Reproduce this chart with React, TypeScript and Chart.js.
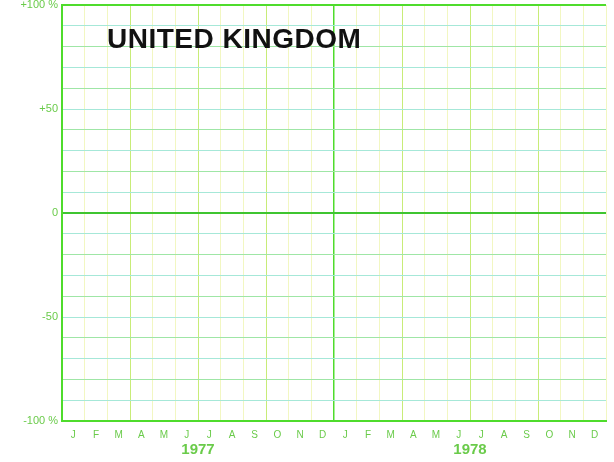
import React, { useEffect, useRef } from "react";
import { Chart, registerables } from "chart.js";

Chart.register(...registerables);

const months: string[] = [
  "J", "F", "M", "A", "M", "J", "J", "A", "S", "O", "N", "D",
  "J", "F", "M", "A", "M", "J", "J", "A", "S", "O", "N", "D",
];
const years: string[] = ["1977", "1978"];
const yLabeled: Record<number, string> = {
  100: "+100 %",
  50: "+50",
  0: "0",
  [-50]: "-50",
  [-100]: "-100 %",
};
const ukValues: (number | null)[] = [];
const title = "UNITED KINGDOM";

const GREEN = "#4fdc2c";
const TEXT_GREEN = "#6acb4a";

const titlePlugin = {
  id: "ukTitle",
  afterDraw(chart: any) {
    const { ctx, chartArea } = chart;
    ctx.save();
    ctx.font = "bold 28px 'Liberation Sans', Arial, sans-serif";
    try {
      (ctx as any).letterSpacing = "0.5px";
    } catch (e) {}
    ctx.fillStyle = "#111111";
    ctx.textBaseline = "alphabetic";
    ctx.textAlign = "left";
    ctx.fillText(title, chartArea.left + 45, chartArea.top + 43);
    ctx.restore();
  },
};

export default function App() {
  const ref = useRef<HTMLCanvasElement | null>(null);
  useEffect(() => {
    document.body.style.margin = "0";
    const chart = new Chart(ref.current as HTMLCanvasElement, {
      type: "line",
      data: {
        labels: months,
        datasets: [
          {
            label: "United Kingdom",
            data: ukValues,
            borderColor: "#222",
            pointRadius: 0,
          },
        ],
      },
      plugins: [titlePlugin],
      options: {
        animation: false,
        responsive: false,
        maintainAspectRatio: false,
        layout: { padding: { top: 0, right: 8, left: 0, bottom: 0 } },
        plugins: {
          legend: { display: false },
          tooltip: { enabled: false },
          title: { display: false },
        },
        scales: {
          x: {
            type: "category",
            position: "bottom",
            offset: true,
            afterFit: (s: any) => {
              s.height = 20;
            },
            grid: {
              offset: true,
              drawTicks: false,
              color: (c: any) => {
                const i = c.index;
                if (i === 0 || i === 24 || i === 12) return GREEN;
                if (i % 3 === 0) return "#c8ec78";
                return "#f2f7c2";
              },
              lineWidth: (c: any) => {
                const i = c.index;
                if (i === 0 || i === 24) return 2;
                if (i === 12) return 1.5;
                return 1;
              },
            },
            border: { display: true, color: GREEN, width: 2 },
            ticks: {
              color: TEXT_GREEN,
              font: { size: 10, family: "'Liberation Sans', Arial, sans-serif" },
              maxRotation: 0,
              autoSkip: false,
              padding: 8,
            },
          },
          x2: {
            type: "category",
            labels: years,
            position: "bottom",
            offset: true,
            afterFit: (s: any) => {
              s.height = 21;
            },
            grid: { display: false, drawTicks: false },
            border: { display: false },
            ticks: {
              color: TEXT_GREEN,
              font: { size: 15, weight: "bold", family: "'Liberation Sans', Arial, sans-serif" },
              maxRotation: 0,
              padding: 0,
            },
          },
          y: {
            type: "linear",
            min: -100,
            max: 100,
            afterFit: (s: any) => {
              s.width = 62;
              s.paddingTop = 5;
              s.paddingBottom = 0;
            },
            grid: {
              drawTicks: false,
              color: (c: any) => {
                const v = c.tick ? c.tick.value : 0;
                if (v === 100 || v === -100) return GREEN;
                if (v === 0) return "#3fc530";
                return v % 20 === 0 ? "#9fe6a6" : "#a6e8d8";
              },
              lineWidth: (c: any) => {
                const v = c.tick ? c.tick.value : 0;
                if (v === 100 || v === -100) return 2;
                if (v === 0) return 2;
                return 1;
              },
            },
            border: { display: true, color: GREEN, width: 2 },
            ticks: {
              stepSize: 10,
              autoSkip: false,
              color: TEXT_GREEN,
              padding: 4,
              font: { size: 11, family: "'Liberation Sans', Arial, sans-serif" },
              callback: (v: any) => {
                const n = Number(v);
                return yLabeled[n] !== undefined ? yLabeled[n] : "";
              },
            },
          },
        },
      },
    });
    return () => chart.destroy();
  }, []);
  return (
    <div style={{ position: "fixed", left: 0, top: 0, width: 614, height: 462, background: "#fff" }}>
      <canvas ref={ref} width={614} height={462} style={{ display: "block" }} />
    </div>
  );
}
